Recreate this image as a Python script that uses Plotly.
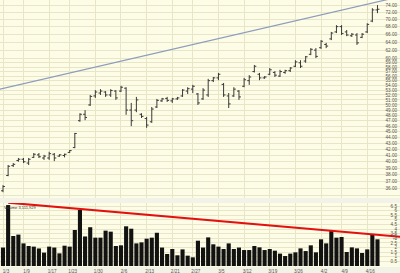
import plotly.graph_objects as go
import pandas as pd

# ---------------- data ----------------
holidays = ["2012-01-16", "2012-02-20", "2012-04-06"]
dates = [d for d in pd.bdate_range("2012-01-03", "2012-04-18")
         if d.strftime("%Y-%m-%d") not in holidays]

opens = [35.7, 37.9, 39.4, 40.2, 40.4, 39.8, 40.7, 41.1, 40.6, 40.6,
         41.2, 40.9, 41.0, 41.5, 42.3, 47.0, 48.2, 50.0, 51.8, 52.4,
         52.6, 52.0, 52.8, 52.8, 53.4, 49.0, 49.0, 48.2, 47.4, 46.8,
         49.6, 50.8, 51.3, 50.8, 51.2, 51.8, 52.8, 53.2, 52.2, 51.2,
         52.0, 55.0, 55.6, 54.2, 51.8, 51.8, 52.8, 53.8, 55.0, 57.0,
         56.4, 55.6, 56.4, 56.8, 56.0, 56.8, 57.2, 58.2, 59.0, 59.4,
         61.0, 62.0, 62.6, 63.4, 64.8, 66.6, 68.0, 66.6, 65.6, 65.8,
         65.2, 66.6, 69.5, 72.6]
highs = [36.5, 39.5, 39.8, 40.6, 40.6, 40.6, 41.4, 41.4, 41.1, 41.6,
         41.4, 41.2, 41.3, 41.9, 44.8, 48.4, 49.0, 52.0, 53.0, 53.2,
         52.8, 53.2, 53.0, 53.9, 53.6, 50.4, 51.6, 48.4, 47.7, 49.6,
         51.2, 51.4, 51.6, 51.4, 51.6, 53.2, 53.6, 54.1, 52.4, 53.4,
         55.4, 55.8, 56.7, 54.5, 52.4, 53.6, 53.0, 55.6, 56.2, 58.5,
         56.7, 56.0, 57.8, 57.1, 57.4, 57.4, 58.0, 59.6, 59.6, 60.6,
         62.5, 62.5, 64.5, 63.8, 66.6, 68.4, 68.4, 67.1, 66.3, 66.3,
         66.3, 68.9, 73.1, 74.0]
lows = [35.5, 37.8, 39.2, 40.0, 39.8, 39.5, 40.6, 40.6, 40.3, 40.3,
        40.1, 40.8, 40.7, 41.4, 42.2, 46.8, 47.1, 49.8, 51.4, 52.0,
        51.6, 51.6, 51.0, 52.6, 48.1, 46.0, 48.6, 47.5, 45.7, 46.6,
        49.4, 50.6, 50.6, 50.4, 51.0, 51.6, 52.2, 52.4, 50.0, 51.0,
        51.6, 54.7, 55.1, 51.6, 49.4, 51.6, 51.0, 53.6, 54.1, 56.8,
        55.1, 55.4, 56.2, 55.8, 55.8, 56.5, 56.9, 58.0, 57.8, 59.0,
        60.8, 60.1, 62.3, 62.5, 64.5, 66.3, 65.8, 65.5, 65.3, 63.3,
        65.0, 66.3, 69.2, 71.7]
closes = [36.3, 39.3, 39.6, 40.4, 40.0, 40.4, 41.2, 40.8, 40.9, 41.3,
          40.6, 41.1, 41.2, 41.8, 44.7, 48.2, 47.6, 51.7, 52.6, 52.8,
          52.0, 52.9, 51.4, 53.6, 49.0, 47.0, 51.0, 47.8, 46.2, 49.2,
          50.9, 51.2, 50.9, 51.2, 51.4, 53.0, 53.3, 53.8, 50.4, 53.0,
          55.0, 55.6, 56.4, 52.0, 50.2, 53.2, 51.6, 55.2, 55.8, 58.2,
          55.6, 55.8, 57.4, 56.2, 57.0, 57.2, 57.8, 59.2, 58.2, 60.4,
          62.2, 60.5, 64.2, 63.0, 66.3, 68.0, 66.2, 65.8, 66.0, 63.8,
          66.0, 68.6, 72.6, 72.8]
volume_m = [2.0, 6.6, 3.25, 3.4, 2.45, 2.17, 2.1, 1.9, 1.45, 2.1,
            2.0, 1.37, 2.2, 2.1, 3.9, 6.07, 3.2, 4.2, 3.07, 3.07,
            3.83, 3.72, 2.17, 2.24, 4.3, 4.04, 2.45, 2.56, 2.96, 3.07,
            3.6, 2.0, 1.3, 1.84, 1.16, 1.8, 1.12, 0.94, 2.74,
            2.0, 3.1, 2.35, 2.1, 1.84, 2.45, 1.84, 2.0, 1.73, 1.73,
            2.17, 2.02, 1.73, 1.84, 1.66, 1.34, 1.08, 1.34, 1.48, 1.91,
            1.62, 2.24, 1.48, 2.89, 2.45, 3.83, 3.07, 3.14, 1.52, 2.02,
            1.91, 1.41, 1.8, 3.43, 2.89]

tick_dates = ["2012-01-03", "2012-01-09", "2012-01-17", "2012-01-23", "2012-01-30",
              "2012-02-06", "2012-02-13", "2012-02-21", "2012-02-27", "2012-03-05",
              "2012-03-12", "2012-03-19", "2012-03-26", "2012-04-02", "2012-04-09",
              "2012-04-16"]
tick_labels = ["1/3", "1/9", "1/17", "1/23", "1/30", "2/6", "2/13", "2/21", "2/27",
               "3/5", "3/12", "3/19", "3/26", "4/2", "4/9", "4/16"]

price_ticks = [74, 72, 70, 68, 66, 64, 62, 60, 59, 58, 57, 56, 55, 54, 53, 52, 51,
               50, 49, 48, 47, 46, 45, 44, 43, 42, 41, 40, 39, 38, 37, 36, 35]
vol_ticks = [0, 0.5, 1, 1.5, 2, 2.5, 3, 3.5, 4, 4.5, 5, 5.5, 6, 6.5]

# trendlines (bar index, value)
price_trend_x = [-0.6, 77.4]
price_trend_y = [53.2, 76.5]
vol_trend_x = [1, 77.4]
vol_trend_y = [6.85, 3.17]

# ---------------- figure ----------------
idx = list(range(len(dates)))
date_str = [d.strftime("%Y-%m-%d") for d in dates]
tick_pos = [date_str.index(t) for t in tick_dates]

fig = go.Figure()
fig.add_trace(go.Ohlc(x=idx, open=opens, high=highs, low=lows, close=closes,
                      increasing=dict(line=dict(color="#3a3a3a", width=1)),
                      decreasing=dict(line=dict(color="#3a3a3a", width=1)),
                      tickwidth=0.38, xaxis="x", yaxis="y", hoverinfo="skip"))
fig.add_trace(go.Scatter(x=price_trend_x, y=price_trend_y, mode="lines",
                         line=dict(color="#8c9cbc", width=1.2),
                         xaxis="x", yaxis="y", hoverinfo="skip"))
fig.add_trace(go.Bar(x=idx, y=volume_m, marker=dict(color="#121210",
                     line=dict(width=0)), width=0.8,
                     xaxis="x2", yaxis="y2", hoverinfo="skip"))
fig.add_trace(go.Scatter(x=vol_trend_x, y=vol_trend_y, mode="lines",
                         line=dict(color="#e41010", width=2.2),
                         xaxis="x2", yaxis="y2", hoverinfo="skip"))

grid = "#e9e6c8"
font = dict(family="Liberation Sans, Arial, sans-serif", size=4.6, color="#555555")
xr = [-0.585, 77.39]

fig.update_layout(
    width=400, height=273,
    margin=dict(l=0, r=0, t=0, b=6),
    paper_bgcolor="#f3f2e6", plot_bgcolor="#fdfce6",
    showlegend=False, font=font,
    xaxis=dict(domain=[0, 1], anchor="y", range=xr, showticklabels=False,
               tickvals=tick_pos, showgrid=True, gridcolor=grid, gridwidth=1,
               zeroline=False, rangeslider=dict(visible=False), fixedrange=True),
    yaxis=dict(domain=[0.2584, 1], type="log", side="right",
               range=[1.5403, 1.8779], tickvals=price_ticks,
               ticktext=[f"{v:.2f}" for v in price_ticks],
               ticklabelposition="inside", showgrid=True, gridcolor=grid,
               zeroline=False, tickfont=font),
    xaxis2=dict(domain=[0, 1], anchor="y2", range=xr, tickvals=tick_pos,
                ticktext=tick_labels, showgrid=True, gridcolor=grid,
                zeroline=False, ticks="", tickfont=font,
                ticklabeloverflow="allow", ticklabelshift=3),
    yaxis2=dict(domain=[0, 0.2397], side="right", range=[-0.108, 6.825],
                tickvals=vol_ticks, ticktext=[f"{v:g}" for v in vol_ticks],
                ticklabelposition="inside", showgrid=True, gridcolor=grid,
                zeroline=False, tickfont=font),
    annotations=[
        dict(text="Volume 3,111,929", xref="paper", yref="paper", x=0.005, y=0.2397,
             xanchor="left", yanchor="top", showarrow=False,
             font=dict(family="Liberation Sans, Arial", size=4, color="#333")),
        dict(text="3.11", xref="paper", yref="y2", x=0.997, y=3.3, textangle=-90,
             xanchor="right", yanchor="middle", showarrow=False,
             font=dict(family="Liberation Sans, Arial", size=4, color="#444")),
    ],
)

fig.write_html("out.html")
